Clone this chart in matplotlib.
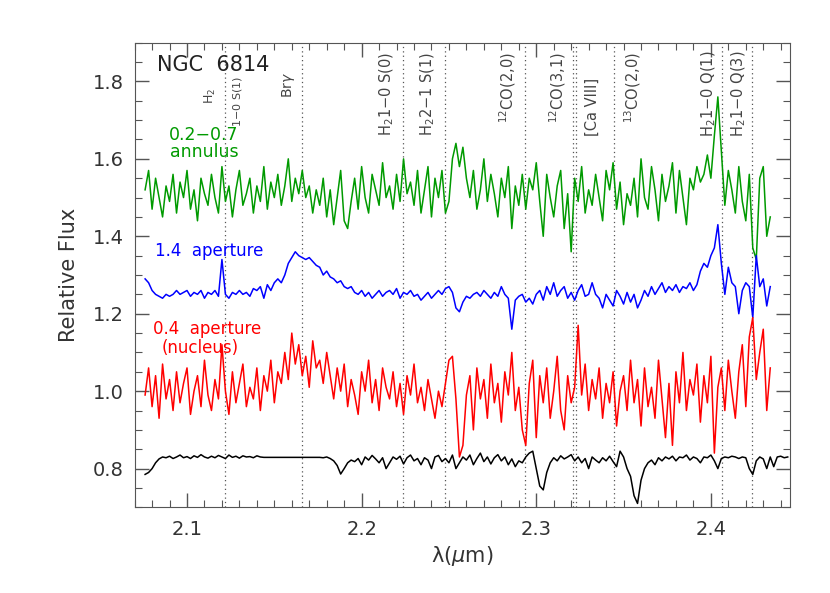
import numpy as np
import matplotlib.pyplot as plt
from matplotlib.ticker import MultipleLocator

# wavelength grid of the spectra (micron)
wl = np.arange(180) * 0.002 + 2.076
wl_ref = np.arange(185) * 0.002 + 2.076

# 0.2-0.7 arcsec annulus
annulus = [1.52, 1.57, 1.47, 1.55, 1.50, 1.45, 1.53, 1.49, 1.56, 1.46,
           1.54, 1.50, 1.57, 1.47, 1.52, 1.44, 1.55, 1.51, 1.48, 1.56,
           1.50, 1.46, 1.58, 1.49, 1.53, 1.45, 1.52, 1.57, 1.48, 1.51,
           1.55, 1.46, 1.53, 1.49, 1.58, 1.47, 1.54, 1.50, 1.56, 1.48,
           1.53, 1.60, 1.49, 1.55, 1.51, 1.57, 1.50, 1.53, 1.46, 1.52,
           1.48, 1.55, 1.45, 1.52, 1.43, 1.50, 1.57, 1.44, 1.42, 1.49,
           1.55, 1.47, 1.58, 1.50, 1.46, 1.56, 1.52, 1.48, 1.59, 1.50,
           1.53, 1.47, 1.56, 1.49, 1.60, 1.51, 1.54, 1.48, 1.57, 1.46,
           1.52, 1.58, 1.45, 1.55, 1.50, 1.57, 1.46, 1.49, 1.60, 1.64,
           1.58, 1.63, 1.55, 1.50, 1.57, 1.47, 1.52, 1.60, 1.49, 1.56,
           1.51, 1.45, 1.55, 1.50, 1.58, 1.42, 1.53, 1.48, 1.56, 1.47,
           1.55, 1.52, 1.59, 1.49, 1.40, 1.56, 1.50, 1.45, 1.53, 1.57,
           1.42, 1.51, 1.36, 1.55, 1.49, 1.58, 1.46, 1.52, 1.48, 1.56,
           1.50, 1.44, 1.57, 1.52, 1.59, 1.47, 1.54, 1.43, 1.51, 1.48,
           1.55, 1.45, 1.60, 1.50, 1.47, 1.58, 1.52, 1.44, 1.56, 1.49,
           1.53, 1.59, 1.46, 1.57, 1.50, 1.43, 1.55, 1.52, 1.58, 1.54,
           1.56, 1.61, 1.55, 1.66, 1.76, 1.62, 1.48, 1.57, 1.52, 1.46,
           1.58, 1.49, 1.44, 1.56, 1.37, 1.34, 1.55, 1.58, 1.40, 1.45]

# 1.4 arcsec aperture
aper14 = [1.29, 1.28, 1.26, 1.25, 1.245, 1.24, 1.25, 1.245, 1.25, 1.26,
          1.25, 1.255, 1.26, 1.245, 1.255, 1.25, 1.26, 1.24, 1.255, 1.25,
          1.26, 1.245, 1.34, 1.25, 1.24, 1.255, 1.25, 1.26, 1.25, 1.255,
          1.245, 1.265, 1.26, 1.27, 1.24, 1.275, 1.26, 1.28, 1.29, 1.28,
          1.30, 1.33, 1.345, 1.36, 1.35, 1.345, 1.34, 1.345, 1.335, 1.325,
          1.32, 1.30, 1.31, 1.295, 1.29, 1.28, 1.285, 1.27, 1.265, 1.27,
          1.255, 1.25, 1.26, 1.245, 1.255, 1.24, 1.25, 1.26, 1.245, 1.255,
          1.26, 1.25, 1.265, 1.24, 1.255, 1.25, 1.26, 1.245, 1.25, 1.235,
          1.245, 1.255, 1.24, 1.25, 1.26, 1.25, 1.265, 1.27, 1.255, 1.215,
          1.205, 1.23, 1.245, 1.24, 1.25, 1.255, 1.245, 1.26, 1.25, 1.24,
          1.255, 1.245, 1.27, 1.25, 1.24, 1.16, 1.235, 1.245, 1.25, 1.23,
          1.24, 1.225, 1.25, 1.26, 1.235, 1.27, 1.25, 1.28, 1.245, 1.26,
          1.27, 1.24, 1.255, 1.235, 1.26, 1.275, 1.245, 1.25, 1.28, 1.25,
          1.24, 1.215, 1.25, 1.235, 1.22, 1.26, 1.245, 1.225, 1.255, 1.23,
          1.25, 1.215, 1.235, 1.26, 1.245, 1.27, 1.25, 1.265, 1.28, 1.255,
          1.27, 1.26, 1.275, 1.255, 1.27, 1.265, 1.28, 1.26, 1.275, 1.31,
          1.33, 1.32, 1.35, 1.37, 1.43, 1.33, 1.25, 1.32, 1.28, 1.27,
          1.20, 1.26, 1.28, 1.27, 1.19, 1.35, 1.27, 1.29, 1.22, 1.27]

# 0.4 arcsec aperture (nucleus)
nucleus = [0.99, 1.06, 0.96, 1.04, 0.93, 1.07, 0.98, 1.03, 0.95, 1.05,
           0.97, 1.02, 1.06, 0.94, 1.00, 1.04, 0.96, 1.08, 0.99, 0.95,
           1.03, 0.98, 1.12, 1.00, 0.94, 1.05, 0.97, 1.02, 1.07, 0.96,
           1.01, 0.98, 1.06, 0.95, 1.04, 1.00, 1.08, 0.97, 1.05, 1.02,
           1.10, 1.03, 1.15, 1.07, 1.12, 1.04, 1.09, 1.01, 1.13, 1.06,
           1.08, 1.02, 1.10, 1.04, 0.98, 1.06, 1.00, 1.07, 0.96, 1.03,
           0.99, 0.94, 1.05, 1.00, 1.08, 0.97, 1.03, 0.95, 1.06, 1.01,
           0.98, 1.05, 0.96, 1.02, 0.94, 1.04, 0.99, 1.07, 0.97, 1.01,
           0.95, 1.03, 0.98, 0.93, 1.00, 0.96, 1.02, 1.08, 1.09, 0.98,
           0.83, 0.86, 0.99, 1.04, 0.90, 1.06, 0.98, 1.03, 0.93, 1.07,
           0.97, 1.02, 0.92, 1.05, 0.99, 1.10, 0.95, 1.01, 0.90, 0.86,
           1.02, 1.08, 0.88, 1.04, 0.97, 1.06, 0.93, 1.00, 1.09, 0.95,
           0.90, 1.04, 0.97, 1.01, 1.17, 0.99, 1.07, 0.95, 1.03, 0.98,
           1.06, 0.93, 1.02, 0.97, 1.05, 0.91, 1.00, 1.04, 0.95, 1.08,
           0.97, 1.03, 0.91, 1.06, 0.96, 1.01, 0.93, 1.08, 0.98, 0.88,
           1.02, 0.86, 1.05, 0.97, 1.10, 0.95, 1.03, 0.99, 1.07, 0.92,
           1.04, 0.97, 1.09, 0.84, 1.01, 1.06, 0.95, 1.08, 1.00, 0.93,
           1.05, 1.12, 0.96, 1.14, 1.19, 1.03, 1.10, 1.16, 0.95, 1.06]

# template spectrum (black)
template = [0.785, 0.79, 0.80, 0.815, 0.825, 0.83, 0.828, 0.832, 0.826, 0.83,
            0.835, 0.828, 0.831, 0.826, 0.833, 0.829, 0.836, 0.83, 0.827, 0.832,
            0.828, 0.834, 0.83, 0.826, 0.835, 0.829, 0.832, 0.827, 0.833, 0.83,
            0.831, 0.828, 0.833, 0.83, 0.829, 0.829, 0.829, 0.829, 0.829, 0.829,
            0.829, 0.829, 0.829, 0.829, 0.829, 0.829, 0.829, 0.829, 0.829, 0.829,
            0.829, 0.828, 0.83, 0.826, 0.82, 0.808, 0.786, 0.80, 0.815, 0.822,
            0.818, 0.826, 0.81, 0.83, 0.822, 0.834, 0.825, 0.815, 0.828, 0.80,
            0.815, 0.83, 0.824, 0.832, 0.812, 0.828, 0.835, 0.82, 0.826, 0.81,
            0.828, 0.822, 0.80, 0.83, 0.834, 0.818, 0.826, 0.815, 0.835, 0.80,
            0.815, 0.83, 0.822, 0.835, 0.81, 0.826, 0.84, 0.818, 0.83, 0.812,
            0.828, 0.836, 0.82, 0.83, 0.81, 0.825, 0.805, 0.82, 0.815, 0.83,
            0.84, 0.845, 0.80, 0.755, 0.745, 0.79, 0.815, 0.828, 0.82, 0.833,
            0.825, 0.83, 0.836, 0.82, 0.83, 0.815, 0.826, 0.80, 0.83, 0.822,
            0.815, 0.828, 0.82, 0.832, 0.818, 0.805, 0.845, 0.83, 0.80, 0.78,
            0.73, 0.71, 0.77, 0.80, 0.815, 0.822, 0.81, 0.828, 0.82, 0.83,
            0.825, 0.832, 0.82, 0.83, 0.828, 0.835, 0.822, 0.83, 0.826, 0.815,
            0.83, 0.828, 0.835, 0.82, 0.80, 0.826, 0.83, 0.828, 0.832, 0.83,
            0.826, 0.83, 0.828, 0.80, 0.785, 0.82, 0.83, 0.825, 0.80, 0.83,
            0.805, 0.83, 0.832, 0.828, 0.83]

# line identifications
line_wl = [2.1218, 2.1661, 2.2235, 2.2477, 2.2935, 2.3213, 2.3227,
           2.3448, 2.4066, 2.4237]
lbl_text = ['H$_2$', '1$-$0 S(1)', 'Br$\\gamma$', 'H$_2$1$-$0 S(0)',
            'H$_2$2$-$1 S(1)', '$^{12}$CO(2,0)', '$^{12}$CO(3,1)',
            '[Ca VIII]', '$^{13}$CO(2,0)', 'H$_2$1$-$0 Q(1)', 'H$_2$1$-$0 Q(3)']
lbl_x = [2.1132, 2.1287, 2.1579, 2.2146, 2.2381, 2.2839, 2.3125,
         2.3320, 2.3550, 2.3986, 2.4158]
lbl_y = [1.762, 1.748, 1.790, 1.767, 1.767, 1.783, 1.783,
         1.733, 1.783, 1.767, 1.767]
lbl_size = [9, 8, 10, 10.5, 10.5, 10.5, 10.5, 10.5, 10.5, 10.5, 10.5]


def main():
    fig = plt.figure(figsize=(8.3, 5.93), dpi=100)
    ax = fig.add_axes([0.1622, 0.1445, 0.7900, 0.7835])

    for w in line_wl:
        ax.axvline(w, color='#555555', lw=0.9, ls=(0, (1, 2.5)), zorder=1)

    ax.plot(wl, annulus, color='#009a00', lw=1.1)
    ax.plot(wl, aper14, color='#0000ff', lw=1.1)
    ax.plot(wl, nucleus, color='#ff0000', lw=1.1)
    ax.plot(wl_ref, template, color='black', lw=1.1)

    for t, x, y, s in zip(lbl_text, lbl_x, lbl_y, lbl_size):
        ax.text(x, y, t, rotation=90, ha='center', va='center',
                fontsize=s, color='#444444')

    ax.text(2.0828, 1.843, 'NGC  6814', fontsize=15, color='#222222',
            va='center')
    ax.text(2.0897, 1.662, '0.2\u22120.7', fontsize=12.5, color='#009a00',
            va='center')
    ax.text(2.0903, 1.617, 'annulus', fontsize=12.5, color='#009a00',
            va='center')
    ax.text(2.0817, 1.361, '1.4  aperture', fontsize=12, color='#0000ff',
            va='center')
    ax.text(2.0805, 1.160, '0.4  aperture', fontsize=12, color='#ff0000',
            va='center')
    ax.text(2.0857, 1.111, '(nucleus)', fontsize=12, color='#ff0000',
            va='center')

    ax.set_xlim(2.07, 2.4455)
    ax.set_ylim(0.7, 1.9)
    ax.xaxis.set_major_locator(MultipleLocator(0.1))
    ax.xaxis.set_minor_locator(MultipleLocator(0.01))
    ax.yaxis.set_major_locator(MultipleLocator(0.2))
    ax.yaxis.set_minor_locator(MultipleLocator(0.05))
    ax.set_yticks([0.8, 1.0, 1.2, 1.4, 1.6, 1.8])
    ax.set_yticklabels(['0.8', '1.0', '1.2', '1.4', '1.6', '1.8'])
    ax.tick_params(which='both', direction='in', top=True, right=True,
                   color='#555555', labelsize=14, labelcolor='#333333')
    ax.tick_params(which='major', length=10, width=1)
    ax.tick_params(which='minor', length=5, width=0.8)
    ax.tick_params(axis='x', pad=9)
    ax.tick_params(axis='y', pad=8)
    for sp in ax.spines.values():
        sp.set_color('#555555')

    ax.set_xlabel('\u03bb($\\mu$m)', fontsize=15, color='#333333', labelpad=4)
    ax.set_ylabel('Relative Flux', fontsize=15, color='#333333', labelpad=10)

    fig.savefig('out.png', dpi=100)


if __name__ == "__main__":
    main()
